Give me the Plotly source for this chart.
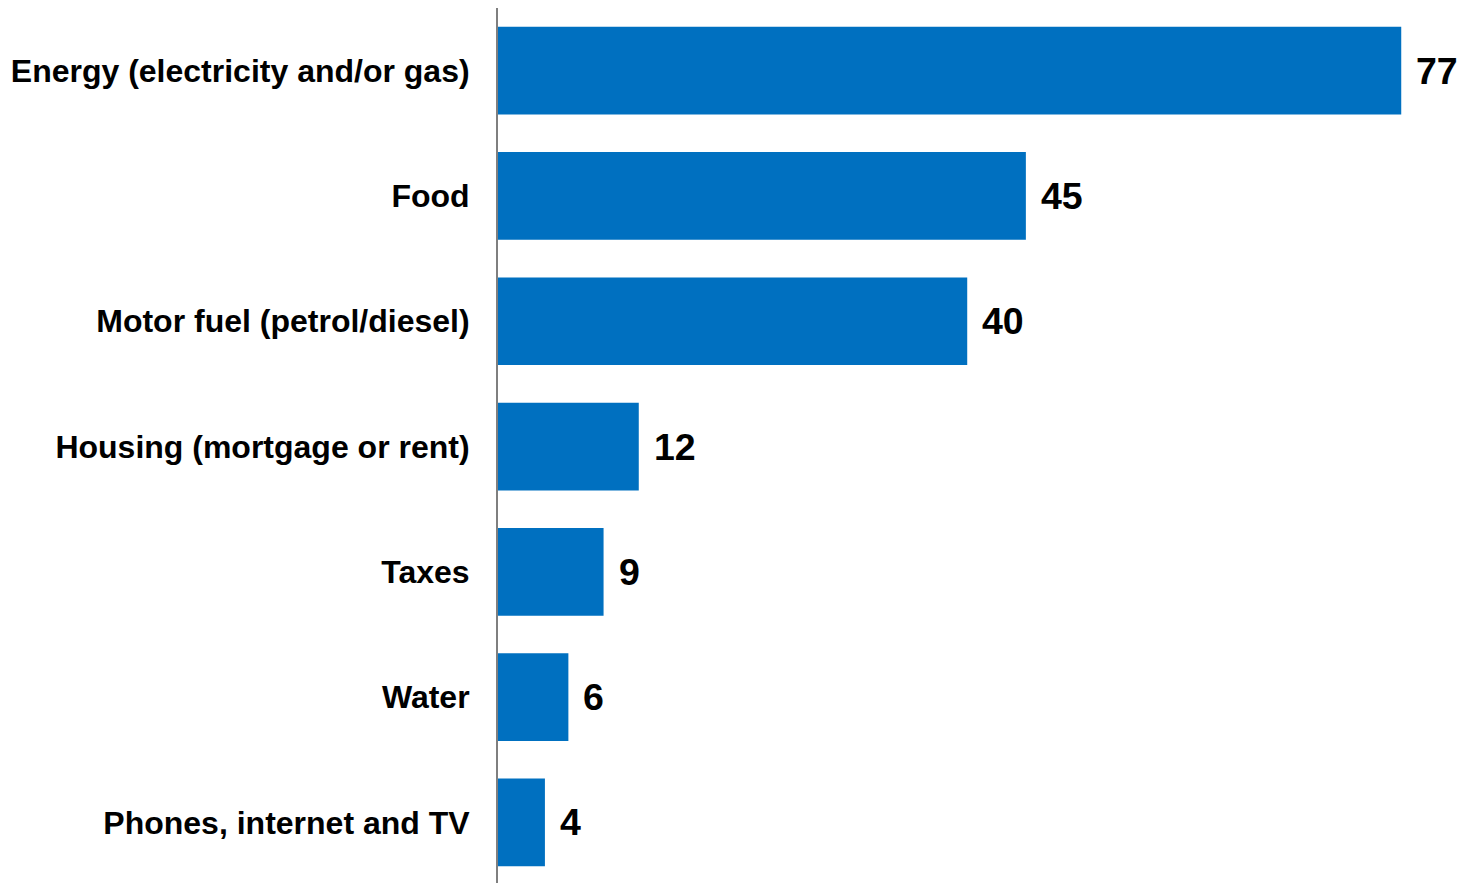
import plotly.graph_objects as go

categories = [
    "Energy (electricity and/or gas)",
    "Food",
    "Motor fuel (petrol/diesel)",
    "Housing (mortgage or rent)",
    "Taxes",
    "Water",
    "Phones, internet and TV",
]
values = [77, 45, 40, 12, 9, 6, 4]

fig = go.Figure()
fig.add_trace(go.Bar(
    x=values,
    y=categories,
    orientation="h",
    marker=dict(color="#0070C0", line=dict(width=0)),
    width=0.7,
    hoverinfo="skip",
))

for c, v in zip(categories, values):
    fig.add_annotation(
        x=v, y=c, text=str(v), showarrow=False,
        xanchor="left", yanchor="middle", xshift=13,
        font=dict(family="Liberation Sans, Arial", size=37.5, color="#000000", weight="bold"),
    )

fig.update_layout(
    width=1464, height=883,
    margin=dict(l=498, r=0, t=8, b=0),
    paper_bgcolor="white",
    plot_bgcolor="white",
    showlegend=False,
    bargap=0.3,
    font=dict(family="Liberation Sans, Arial", color="#000000"),
)
fig.update_xaxes(
    range=[0, 82.35], visible=False, showgrid=False, zeroline=False,
)
fig.update_yaxes(
    range=[6.483, -0.5], type="category",
    showline=True, linecolor="#7f7f7f", linewidth=2,
    showgrid=False, zeroline=False, ticks="",
    ticklabelstandoff=20,
    tickfont=dict(family="Liberation Sans, Arial", size=32, color="#000000", weight="bold"),
)

fig.write_html("out.html")
